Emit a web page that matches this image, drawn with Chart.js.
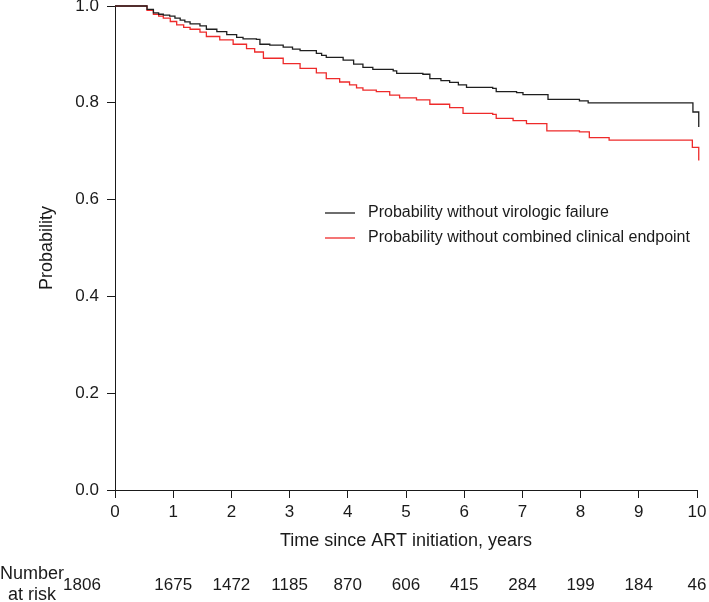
<!DOCTYPE html>
<html>
<head>
<meta charset="utf-8">
<script src="https://cdn.jsdelivr.net/npm/chart.js@4.4.1/dist/chart.umd.min.js"></script>
<style>
  html, body { margin: 0; padding: 0; background: #fff; }
  #wrap { position: relative; width: 709px; height: 602px; }
</style>
</head>
<body>
<div id="wrap"><canvas id="km"></canvas></div>
<script>
// Kaplan-Meier estimates (time in years, survival probability)
const virologicTimes = [0, 0.47, 0.55, 0.66, 0.75, 0.83, 0.94, 1.03, 1.12, 1.20, 1.29, 1.46, 1.57, 1.75, 1.92, 2.09, 2.20, 2.43, 2.49, 2.66, 2.89, 3.05, 3.18, 3.46, 3.55, 3.63, 3.92, 4.10, 4.26, 4.43, 4.78, 4.84, 5.29, 5.41, 5.60, 5.75, 5.90, 6.04, 6.49, 6.55, 6.90, 7.01, 7.44, 7.98, 8.13, 9.93, 10.03];
const virologicSurv  = [1.0, 1.0, 0.993, 0.986, 0.983, 0.981, 0.979, 0.975, 0.971, 0.967, 0.963, 0.959, 0.952, 0.947, 0.941, 0.935, 0.932, 0.931, 0.921, 0.919, 0.915, 0.911, 0.908, 0.902, 0.898, 0.894, 0.888, 0.880, 0.873, 0.869, 0.866, 0.861, 0.859, 0.850, 0.846, 0.842, 0.837, 0.832, 0.830, 0.823, 0.821, 0.817, 0.807, 0.804, 0.800, 0.781, 0.750];

const clinicalTimes = [0, 0.47, 0.55, 0.66, 0.75, 0.83, 0.95, 1.06, 1.18, 1.29, 1.46, 1.57, 1.80, 2.03, 2.26, 2.40, 2.55, 2.89, 3.18, 3.46, 3.63, 3.86, 4.03, 4.15, 4.26, 4.49, 4.72, 4.89, 5.18, 5.41, 5.75, 5.98, 6.49, 6.55, 6.84, 7.07, 7.42, 7.98, 8.15, 8.49, 9.92, 10.03];
const clinicalSurv  = [1.0, 1.0, 0.991, 0.983, 0.979, 0.975, 0.968, 0.961, 0.956, 0.952, 0.946, 0.937, 0.930, 0.921, 0.912, 0.905, 0.892, 0.881, 0.871, 0.862, 0.850, 0.843, 0.837, 0.831, 0.826, 0.823, 0.816, 0.810, 0.806, 0.797, 0.790, 0.778, 0.776, 0.768, 0.763, 0.757, 0.742, 0.740, 0.728, 0.723, 0.708, 0.681];

const seriesLabels = ['Probability without virologic failure', 'Probability without combined clinical endpoint'];

// Number at risk table under the x axis
const riskYears  = [0, 1, 2, 3, 4, 5, 6, 7, 8, 9, 10];
const riskCounts = [1806, 1675, 1472, 1185, 870, 606, 415, 284, 199, 184, 46];

const FONT = "'Liberation Sans', Arial, sans-serif";
const INK = '#1a1a1a';

Chart.defaults.font.family = FONT;
Chart.defaults.font.size = 16;
Chart.defaults.color = INK;

const toPoints = (xs, ys) => xs.map((x, i) => ({ x, y: ys[i] }));

// Legend drawn inside the plot area, lines + labels taken from the datasets
const insideLegend = {
  id: 'insideLegend',
  afterDatasetsDraw(chart) {
    const { ctx, chartArea } = chart;
    ctx.save();
    ctx.font = `16px ${FONT}`;
    ctx.textBaseline = 'middle';
    chart.data.datasets.forEach((ds, i) => {
      const y = chartArea.top + 207 + i * 25;
      const x0 = chartArea.left + 210;
      ctx.strokeStyle = ds.borderColor;
      ctx.lineWidth = ds.borderWidth;
      ctx.beginPath();
      ctx.moveTo(x0, y);
      ctx.lineTo(x0 + 30, y);
      ctx.stroke();
      ctx.fillStyle = INK;
      ctx.textAlign = 'left';
      ctx.fillText(ds.label, x0 + 43, y);
    });
    ctx.restore();
  }
};

// "Number at risk" row, placed with the x scale
const riskTable = {
  id: 'riskTable',
  afterDraw(chart) {
    const { ctx } = chart;
    const xs = chart.scales.x;
    ctx.save();
    ctx.fillStyle = INK;
    ctx.textBaseline = 'middle';
    ctx.textAlign = 'center';
    ctx.font = `18px ${FONT}`;
    ctx.fillText('Number', 32, 574);
    ctx.fillText('at risk', 32, 595);
    ctx.font = `17px ${FONT}`;
    riskYears.forEach((yr, i) => {
      let px = xs.getPixelForValue(yr);
      if (i === 0) px -= 33;
      ctx.fillText(String(riskCounts[i]), px, 585);
    });
    ctx.restore();
  }
};

new Chart(document.getElementById('km'), {
  type: 'line',
  data: {
    datasets: [{
      label: seriesLabels[0],
      data: toPoints(virologicTimes, virologicSurv),
      borderColor: '#1f1f1f',
      borderWidth: 1.3,
      pointRadius: 0,
      stepped: 'before',
      clip: false,
    }, {
      label: seriesLabels[1],
      data: toPoints(clinicalTimes, clinicalSurv),
      borderColor: '#ee2a2a',
      borderWidth: 1.3,
      pointRadius: 0,
      stepped: 'before',
      clip: false,
    }]
  },
  plugins: [insideLegend, riskTable],
  options: {
    responsive: true, maintainAspectRatio: false, animation: false,
    layout: { padding: { top: 6, right: 12, left: 0, bottom: 50 } },
    plugins: { legend: { display: false }, tooltip: { enabled: false } },
    scales: {
      x: {
        type: 'linear', min: 0, max: 10,
        border: { display: true, color: INK, width: 1 },
        grid: { drawOnChartArea: false, drawTicks: true, tickLength: 8, color: INK },
        ticks: { stepSize: 1, padding: 4, maxRotation: 0, color: INK, font: { size: 17 } },
        title: { display: true, text: 'Time since ART initiation, years', padding: { top: 0, bottom: 0 }, color: INK, font: { size: 18 } },
        afterFit(s) { s.height = 62; s.paddingLeft = 0; s.paddingRight = 0; }
      },
      y: {
        min: 0, max: 1,
        border: { display: true, color: INK, width: 1 },
        grid: { drawOnChartArea: false, drawTicks: true, tickLength: 8, color: INK },
        ticks: { stepSize: 0.2, padding: 8, color: INK, font: { size: 17 }, callback: v => v.toFixed(1) },
        title: { display: true, text: 'Probability', padding: { top: 36, bottom: 0 }, color: INK, font: { size: 18 } },
        afterFit(s) { s.width = 115; s.paddingTop = 0; s.paddingBottom = 0; }
      }
    }
  }
});
</script>
</body>
</html>
